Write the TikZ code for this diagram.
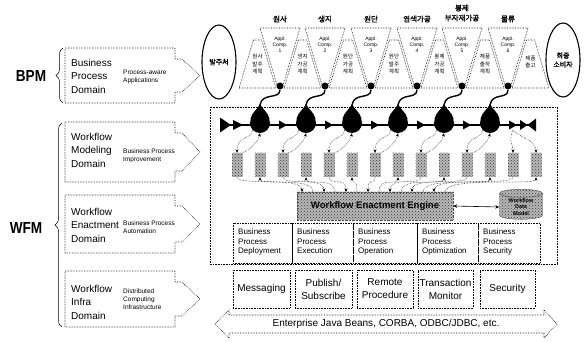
\documentclass[tikz,border=0pt]{standalone}
\usepackage{fontspec}
\setmainfont{Liberation Sans}
\newfontfamily\krfont{Noto Sans CJK KR}
\newfontfamily\krbold{Noto Sans CJK KR}[FakeBold=1.5]
\usetikzlibrary{shapes.geometric,arrows.meta,decorations.pathreplacing,patterns}

\begin{document}
\begin{tikzpicture}[x=1pt,y=-1pt,
  dotbox/.style={densely dotted,line width=0.6pt},
  conn/.style={densely dotted,line width=0.5pt},
  arr/.style={-{Stealth[length=3.5pt,width=3pt]}},
  hatch/.style={preaction={fill=gray!55},pattern=crosshatch dots,pattern color=gray!40!black},
  domtext/.style={font=\fontsize{10}{13.5}\selectfont,align=left,anchor=west,inner sep=0pt},
  roletext/.style={font=\fontsize{6.5}{8}\selectfont,align=left,anchor=west,inner sep=0pt},
  bptext/.style={font=\fontsize{8}{9.5}\selectfont,align=left,anchor=north west,inner sep=0pt},
  svc/.style={draw,dotbox,font=\fontsize{10}{13}\selectfont,align=center,inner sep=0pt,minimum height=38pt},
  krstep/.style={font=\krfont\fontsize{5.5}{7.5}\selectfont,align=center,inner sep=0pt},
  krhead/.style={font=\krbold\fontsize{7.5}{10}\selectfont,align=center,inner sep=0pt},
  appl/.style={font=\fontsize{5}{6}\selectfont,align=center,inner sep=0pt},
  oval/.style={ellipse,draw,line width=1.1pt,minimum width=34pt,minimum height=74pt,inner sep=0pt,
    font=\krbold\fontsize{7}{9}\selectfont,align=center},
  blk/.style={hatch,minimum width=11pt,minimum height=24pt,inner sep=0pt},
  tear/.style={circle,fill=black,minimum size=20pt,inner sep=0pt},
  fdot/.style={circle,fill=black,minimum size=7pt,inner sep=0pt},
  brc/.style={decorate,decoration={brace,amplitude=7pt},line width=0.5pt},
  bighead/.style={font=\bfseries\fontsize{16}{16}\selectfont,inner sep=0pt}
]
\useasboundingbox (0,0) rectangle (587,342);

% ---------- left column: BPM / WFM domains ----------
\node[bighead] (bpm) at (31,76) {\scalebox{0.85}[1]{BPM}};
\node[bighead] (wfm) at (26,228) {\scalebox{0.85}[1]{WFM}};
\draw[brc] (63,103) -- (63,48);
\draw[brc] (62,327) -- (62,123);

\foreach \t/\b in {48/103,122/182,195/253,271/327}{
  \draw[dotbox] (65,\t) -- (175,\t) -- (175,\t+11) -- (182,\t+11) -- (200,{(\t+\b)/2})
    -- (182,\b-11) -- (175,\b-11) -- (175,\b) -- (65,\b) -- cycle;
}
\node[domtext] (d1) at (71,76) {Business\\Process\\Domain};
\node[roletext] (r1) at (123,77) {Process-aware\\Applications};
\node[domtext] (d2) at (71,150) {Workflow\\Modeling\\Domain};
\node[roletext] (r2) at (123,156) {Business Process\\Improvement};
\node[domtext] (d3) at (71,225) {Workflow\\Enactment\\Domain};
\node[roletext] (r3) at (123,227) {Business Process\\Automation};
\node[domtext] (d4) at (71,302) {Workflow\\Infra\\Domain};
\node[roletext] (r4) at (123,299) {Distributed\\Computing\\Infrastructure};

% ---------- value chain on top ----------
\node[oval] (src) at (219,62) {발주처};
\node[oval] (dst) at (563,60) {최종\\소비자};

\foreach \L/\R in {235/280,280/325,325/371,371/417,417/462,462/508,508/553}{
  \draw[dotbox] ({\L+18.4},40) -- ({\R-18.4},40) -- ({\R-4.1},88) -- ({\L+4.1},88) -- cycle;
}
\node[krstep] (s1) at (257.5,64) {원사\\발주\\계획};
\node[krstep] (s2) at (302.5,64) {생지\\가공\\계획};
\node[krstep] (s3) at (348,64) {원단\\가공\\계획};
\node[krstep] (s4) at (394,64) {원단\\발주\\계획};
\node[krstep] (s5) at (439.5,64) {봉제\\가공\\계획};
\node[krstep] (s6) at (485,64) {제품\\출하\\계획};
\node[krstep] (s7) at (530.5,62) {제품\\출고};

\node[krhead] (h1) at (280,19) {원사};
\node[krhead] (h2) at (325,19) {생지};
\node[krhead] (h3) at (371,19) {원단};
\node[krhead] (h4) at (417,19) {염색가공};
\node[krhead] (h5) at (462,13) {봉제\\부자재가공};
\node[krhead] (h6) at (508,19) {물류};

% ---------- workflow area ----------
\draw[dotbox] (210,107) rectangle (557,264);

% process line with arrow marks
\draw[line width=1.5pt] (220,125) -- (535,125);
\fill (220,117.5) -- (231,125) -- (220,132.5) -- cycle;
\fill (233,120) -- (243,125) -- (233,130) -- cycle;
\foreach \m in {283,329,375,421,467,513}{
  \fill ({\m-4},120.5) -- ({\m+4},125) -- ({\m-4},129.5) -- cycle;
}
\fill (520,120) -- (527.5,125) -- (520,130) -- cycle;
\fill (536,118.5) -- (527.5,125) -- (536,131.5) -- cycle;

% funnels, activity drops and their links
\foreach \i/\F/\T in {1/280/260,2/325/306,3/371/352,4/417/398,5/462/444,6/508/490}{
  \draw[dotbox] ({\F-20},28) -- ({\F+20},28) -- ({\F+3},85) -- ({\F-3},85) -- cycle;
  \node[appl] (ap\i) at (\F,45) {Appl.\\Comp.\\\i};
  \node[fdot] (fd\i) at (\F,86) {};
  \node[tear] (td\i) at (\T,123) {};
  \fill (\T,104) .. controls ({\T+2},109) and ({\T+8},112) .. ({\T+9.6},119)
    -- ({\T-9.6},119) .. controls ({\T-8},112) and ({\T-2},109) .. cycle;
  \coordinate (tt\i) at (\T,105);
  \draw[line width=1.4pt] (fd\i) .. controls (\F,100) and ({\T+2},92) .. (tt\i);
}

% application component blocks
\foreach \k in {0,...,13}{
  \node[blk] (b\k) at ({237+23*\k},165) {};
  \coordinate (e\k) at ({302+11*\k},192);
}

\foreach \i/\T/\l in {1/260/0,2/306/2,3/352/4,4/398/6,5/444/8,6/490/10}{
  \draw[conn,arr] (td\i.south west) .. controls ({\T-10},140) and ({\T-23},136) .. (b\l.north);
  \draw[conn,arr] (b\l.north east) .. controls ({\T-10},150) and ({\T-2},142) .. (td\i.south);
}
\coordinate (endtri) at (513,130);
\draw[conn,arr] (endtri) .. controls (508,140) and (513,145) .. (b12.north);
\draw[conn,arr] (endtri) .. controls (520,138) and (536,140) .. (b13.north);

\foreach \k in {0,2,...,12}{
  \draw[conn,arr] (b\k.south) .. controls ({237+23*\k},186) and ({302+11*\k},176) .. (e\k);
}
\foreach \k in {1,3,...,13}{
  \draw[conn,arr] (e\k) .. controls ({302+11*\k},176) and ({237+23*\k},186) .. (b\k.south);
}

% engine and its store
\node[hatch,draw=gray!60!black,densely dotted,minimum width=156pt,minimum height=28pt,
  font=\bfseries\fontsize{9.5}{11}\selectfont] (engine) at (375,206) {Workflow Enactment Engine};
\node[cylinder,shape border rotate=90,aspect=0.3,hatch,draw=gray!60!black,
  minimum width=43pt,minimum height=30pt,inner sep=1pt,
  font=\bfseries\fontsize{5.5}{6.5}\selectfont,align=center] (store) at (521,207) {Workflow\\Data\\Model};
\draw[{Stealth[length=4pt,width=3.5pt]}-{Stealth[length=4pt,width=3.5pt]},line width=0.6pt]
  (engine.east) -- (store.west);

% business process functions
\foreach \l/\r/\n/\w in {233/292/1/Deployment,292/353/2/Execution,353/417/3/Operation,417/478/4/Optimization,478/540/5/Security}{
  \draw[dotbox] (\l,223) rectangle (\r,263);
  \node[bptext] (bp\n) at ({\l+5},229) {Business\\Process\\\w};
}

% infrastructure services
\node[svc,minimum width=57pt] (msg) at (261.5,289) {Messaging};
\node[svc,minimum width=57pt] (pub) at (323.5,289) {Publish/\\Subscribe};
\node[svc,minimum width=56pt] (rpc) at (385,289) {Remote\\Procedure};
\node[svc,minimum width=55pt] (tpm) at (445.5,289) {Transaction\\Monitor};
\node[svc,minimum width=55pt] (sec) at (507.5,289) {Security};

% platform bar
\draw[dotbox] (215,324) -- (229,310) -- (229,315) -- (544,315) -- (544,310) -- (557,324)
  -- (544,338) -- (544,333) -- (229,333) -- (229,338) -- cycle;
\node[font=\fontsize{10}{12}\selectfont,inner sep=0pt] (ejb) at (386,324) {Enterprise Java Beans, CORBA, ODBC/JDBC, etc.};
\end{tikzpicture}
\end{document}
